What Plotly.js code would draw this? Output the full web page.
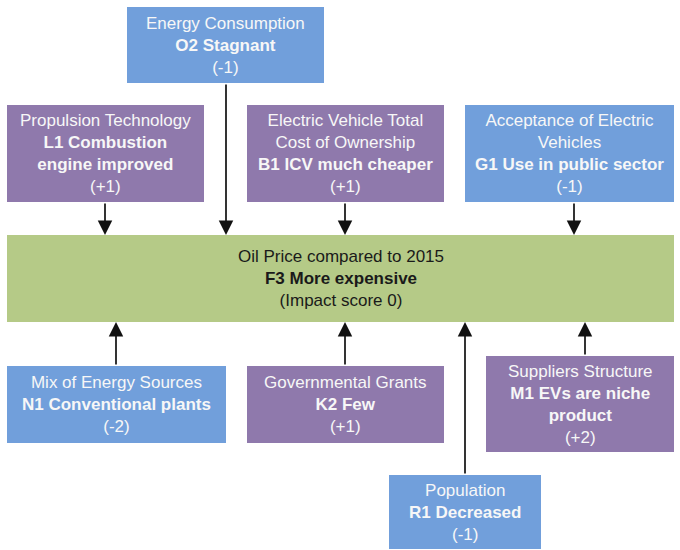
<!DOCTYPE html>
<html>
<head>
<meta charset="utf-8">
<script src="https://cdn.plot.ly/plotly-3.0.1.min.js"></script>
<style>html,body{margin:0;padding:0;background:#fff;}#chart{width:680px;height:550px;}</style>
</head>
<body>
<div id="chart"></div>
<script>
// ---- content ----
const factors = ['Energy Consumption', 'Propulsion Technology', 'Electric Vehicle Total<br>Cost of Ownership',
  'Acceptance of Electric<br>Vehicles', 'Mix of Energy Sources', 'Governmental Grants',
  'Suppliers Structure', 'Population'];
const states = ['O2 Stagnant', 'L1 Combustion<br>engine improved', 'B1 ICV much cheaper',
  'G1 Use in public sector', 'N1 Conventional plants', 'K2 Few',
  'M1 EVs are niche<br>product', 'R1 Decreased'];
const scores = ['(-1)', '(+1)', '(+1)', '(-1)', '(-2)', '(+1)', '(+2)', '(-1)'];
const groups = ['blue', 'purple', 'purple', 'blue', 'blue', 'purple', 'purple', 'blue'];
const centerFactor = 'Oil Price compared to 2015';
const centerState = 'F3 More expensive';
const centerScore = '(Impact score 0)';

// ---- geometry (pixel-like axis units) ----
const boxX0 = [127, 7, 247, 465, 7, 247, 486, 389];
const boxX1 = [324, 204, 444, 674, 226, 444, 674, 541];
const boxY0 = [7, 105, 105, 105, 366, 366, 356, 475];
const boxY1 = [83, 202, 202, 202, 443, 443, 452, 549];
const arrowX = [226, 105, 345, 574, 116, 345, 585, 465];
const center = {x0: 7, x1: 674, y0: 235, y1: 322};

const colors = {blue: '#719fdb', purple: '#8f79ac', green: '#b5ca87'};
const FONT = 'Liberation Sans, Arial, sans-serif';

const shapes = [];
const annotations = [];

shapes.push({type: 'rect', xref: 'x', yref: 'y', x0: center.x0, x1: center.x1, y0: center.y0, y1: center.y1,
  fillcolor: colors.green, line: {width: 0}, layer: 'below'});
annotations.push({xref: 'x', yref: 'y', x: (center.x0 + center.x1) / 2, y: (center.y0 + center.y1) / 2,
  text: centerFactor + '<br><b>' + centerState + '</b><br>' + centerScore, showarrow: false,
  font: {family: FONT, size: 17, color: '#1a1a1a'}, align: 'center'});

for (let i = 0; i < factors.length; i++) {
  shapes.push({type: 'rect', xref: 'x', yref: 'y', x0: boxX0[i], x1: boxX1[i], y0: boxY0[i], y1: boxY1[i],
    fillcolor: colors[groups[i]], line: {width: 0}, layer: 'below'});
  annotations.push({xref: 'x', yref: 'y', x: (boxX0[i] + boxX1[i]) / 2, y: (boxY0[i] + boxY1[i]) / 2,
    text: factors[i] + '<br><b>' + states[i] + '</b><br>' + scores[i], showarrow: false,
    font: {family: FONT, size: 17, color: '#f7f7f7'}, align: 'center'});
  const above = boxY1[i] <= center.y0;
  annotations.push({xref: 'x', yref: 'y', axref: 'x', ayref: 'y',
    x: arrowX[i], y: above ? center.y0 : center.y1,
    ax: arrowX[i], ay: above ? boxY1[i] : boxY0[i],
    text: '', showarrow: true, arrowhead: 2, arrowsize: 1.7, arrowwidth: 1.7,
    arrowcolor: '#111111', standoff: 0, startstandoff: 0});
}

const layout = {
  width: 680, height: 550,
  margin: {l: 0, r: 0, t: 0, b: 0},
  paper_bgcolor: '#ffffff', plot_bgcolor: '#ffffff',
  xaxis: {range: [0, 680], visible: false, fixedrange: true},
  yaxis: {range: [550, 0], visible: false, fixedrange: true},
  shapes: shapes, annotations: annotations, showlegend: false
};
Plotly.newPlot('chart', [{x: [], y: [], type: 'scatter'}], layout, {displayModeBar: false, staticPlot: true});
</script>
</body>
</html>
